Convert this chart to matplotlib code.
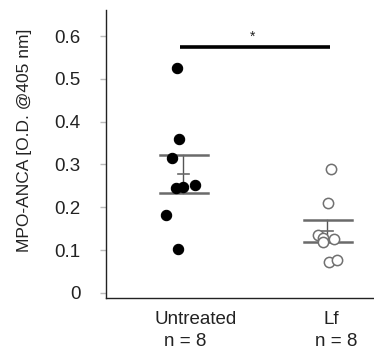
import numpy as np
import matplotlib
matplotlib.use("Agg")
import matplotlib.pyplot as plt
from matplotlib.transforms import blended_transform_factory

plt.rcParams['font.family'] = ['Liberation Sans', 'DejaVu Sans']

categories = ["Untreated", "Lf"]
n_labels = ["n = 8", "n = 8"]
untreated = [0.526, 0.359, 0.315, 0.245, 0.247, 0.251, 0.181, 0.102]
untreated_jitter = [-0.04, -0.03, -0.077, -0.05, 0.002, 0.085, -0.12, -0.037]
lf = [0.289, 0.211, 0.136, 0.129, 0.119, 0.125, 0.073, 0.077]
lf_jitter = [0.026, 0.009, -0.06, -0.028, -0.028, 0.051, 0.012, 0.071]
yticks = [0, 0.1, 0.2, 0.3, 0.4, 0.5, 0.6]
ytick_labels = ["0", "0.1", "0.2", "0.3", "0.4", "0.5", "0.6"]
sig_bar = (1.0, 2.0, 0.575)
sig_text = "*"

W, H = 374, 351
fig = plt.figure(figsize=(W / 100, H / 100), dpi=100)
ax = fig.add_axes([106 / W, (H - 298) / H, (W - 106) / W, (298 - 10) / H])

positions = [1, 2]
groups = [untreated, lf]
jitters = [untreated_jitter, lf_jitter]

# points
ax.scatter(np.array(positions[0]) + np.array(jitters[0]), groups[0], s=55,
           facecolor='black', edgecolor='black', linewidth=0.8, zorder=3)
ax.scatter(np.array(positions[1]) + np.array(jitters[1]), groups[1], s=55,
           facecolor='white', edgecolor='#707070', linewidth=1.1, zorder=3)

# mean +/- SEM
for p, vals in zip(positions, groups):
    v = np.array(vals)
    m = v.mean()
    sem = v.std(ddof=1) / np.sqrt(len(v))
    ax.plot([p, p], [m - sem, m + sem], color='#555555', lw=1.0, zorder=2)
    for yv in (m - sem, m + sem):
        ax.plot([p - 0.16, p + 0.17], [yv, yv], color='#6a6a6a', lw=1.8, zorder=2)
    ax.plot([p - 0.035, p + 0.04], [m, m], color='#6a6a6a', lw=1.2, zorder=2)

# significance
x0, x1, ys = sig_bar
ax.plot([x0 - 0.02, x1 + 0.02], [ys, ys], color='black', lw=2.6, solid_capstyle='butt')
ax.text((x0 + x1) / 2 - 0.02, ys + 0.008, sig_text, ha='center', va='bottom',
        fontsize=10, color='#222222')

ax.set_xlim(0.465, 2.326)
ax.set_ylim(-0.012, 0.661)
ax.set_yticks(yticks)
ax.set_yticklabels(ytick_labels, fontsize=13.5, color='#222222')
ax.tick_params(axis='y', length=4.3, color='#bbbbbb', width=1, pad=14)
ax.set_xticks([])

for s in ['top', 'right']:
    ax.spines[s].set_visible(False)
ax.spines['left'].set_color('#222222')
ax.spines['bottom'].set_color('#222222')
ax.spines['left'].set_linewidth(1.0)
ax.spines['bottom'].set_linewidth(1.0)

trans = blended_transform_factory(ax.transData, ax.transAxes)
cat_offsets = [0.09, 0.03]
n_offsets = [0.015, 0.065]
for p, c, nl, co, no in zip(positions, categories, n_labels, cat_offsets, n_offsets):
    ax.text(p + co, -0.075, c, transform=trans, ha='center', va='center',
            fontsize=13.5, color='#222222')
    ax.text(p + no, -0.15, nl, transform=trans, ha='center', va='center',
            fontsize=13.5, color='#222222')

fig.text(25 / W, 1 - 140 / H, "MPO-ANCA [O.D. @405 nm]", rotation=90,
         ha='center', va='center', fontsize=12.5, color='#222222')

fig.savefig("out.png", dpi=100)
